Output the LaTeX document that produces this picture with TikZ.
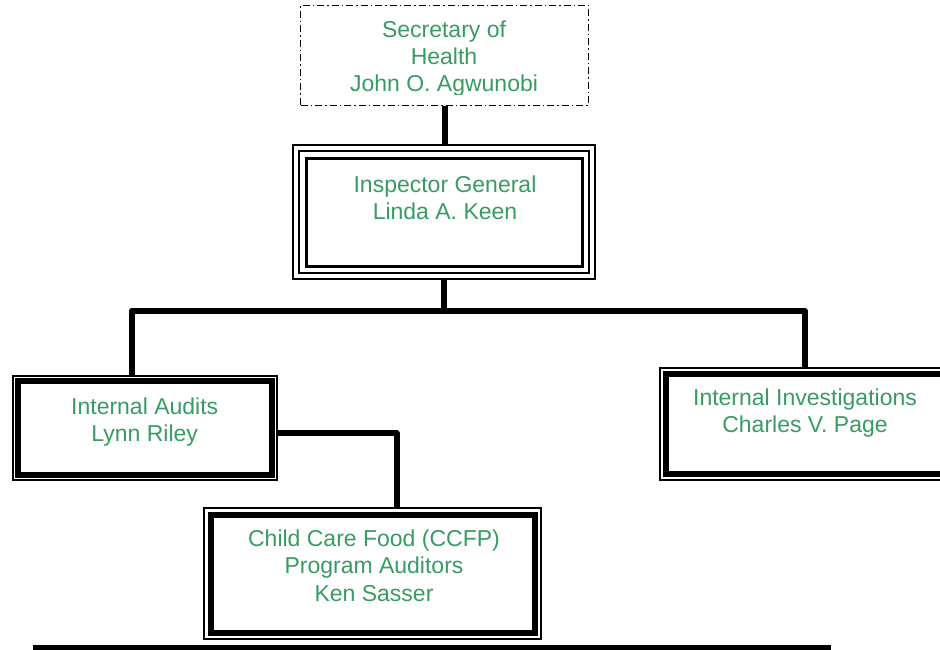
\documentclass[tikz,border=0pt]{standalone}
\usepackage{fontspec}
\setmainfont{Liberation Sans}
\usetikzlibrary{calc}
\definecolor{orggreen}{RGB}{56,155,98}

\begin{document}
\begin{tikzpicture}[x=1pt,y=-1pt,
  secbox/.style={draw,line width=1.1pt,dash pattern=on 7pt off 3pt on 1.5pt off 3pt,inner sep=0pt},
  outbox/.style={draw,line width=2pt,inner sep=0pt},
  thinline/.style={line width=2pt},
  thickline/.style={line width=6pt},
  link/.style={line width=6pt,line join=round},
  lbl/.style={text=orggreen,align=center,inner sep=0pt,anchor=base,font=\fontsize{23}{27.2}\selectfont}]
\clip (0,0) rectangle (940,650);

% boxes
\node[secbox,minimum width=288pt,minimum height=100pt] (sec) at (444.5,55.5) {};
\node[outbox,minimum width=302pt,minimum height=133pt] (ig) at (444,212) {};
\node[outbox,minimum width=264.5pt,minimum height=104.5pt] (audits) at (144.75,427.75) {};
\node[outbox,minimum width=290pt,minimum height=112pt] (invest) at (805,424) {};
\node[outbox,minimum width=337pt,minimum height=131pt] (ccfp) at (372.5,573.5) {};

% inner frames
\draw[thinline] ([shift={(7pt,-7pt)}]ig.north west) rectangle ([shift={(-7pt,7pt)}]ig.south east);
\draw[line width=3pt] ([shift={(14.5pt,-14.5pt)}]ig.north west) rectangle ([shift={(-13.5pt,13.5pt)}]ig.south east);
\foreach \b/\d in {audits/6.5,invest/7,ccfp/7.5}
  \draw[thickline] ([shift={({\d pt},{-\d pt})}]\b.north west) rectangle ([shift={({-\d pt},{\d pt})}]\b.south east);

% texts (base = last line)
\begin{scope}
\clip (300,5) rectangle (589,95);
\node[lbl] (secT) at (444,91.7) {Secretary of\\Health\\John O. Agwunobi};
\end{scope}
\node[lbl] (igT) at (445,219.3) {Inspector General\\Linda A. Keen};
\node[lbl] (auditsT) at (144.7,441.3) {Internal Audits\\Lynn Riley};
\node[lbl] (investT) at (805,432.9) {Internal Investigations\\Charles V. Page};
\node[lbl] (ccfpT) at (374,601) {Child Care Food (CCFP)\\Program Auditors\\Ken Sasser};

% connectors
\coordinate (busL) at (132,310.5);
\coordinate (busR) at (804.5,310.5);
\coordinate (elbow) at (396.5,433);
\coordinate (baseL) at (33,647.5);
\coordinate (baseR) at (831,647.5);
\draw[link] (sec.south) -- (sec.south |- ig.north);
\draw[link] (ig.south) -- (ig.south |- busL);
\draw[link] (busL |- audits.north) -- (busL) -- (busR) -- (busR |- invest.north);
\draw[link] (audits.east |- elbow) -- (elbow) -- (elbow |- ccfp.north);
\draw[link] (baseL) -- (baseR);
\end{tikzpicture}
\end{document}
